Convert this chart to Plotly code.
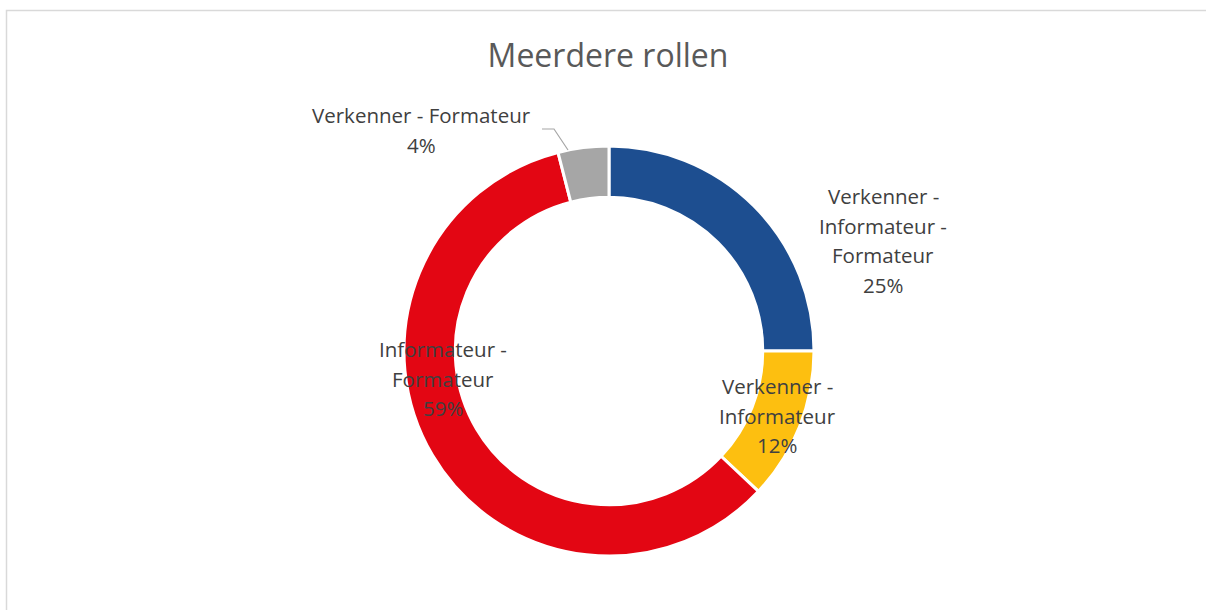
import plotly.graph_objects as go

# ---- data ----
categories = ["Verkenner - Informateur - Formateur", "Verkenner - Informateur",
              "Informateur - Formateur", "Verkenner - Formateur"]
values = [25, 12, 59, 4]
colors = ["#1D4E90", "#FDBF10", "#E30613", "#A6A6A6"]

# wrapped label lines (as in the original chart)
label_lines = [
    ["Verkenner -", "Informateur -", "Formateur"],
    ["Verkenner -", "Informateur"],
    ["Informateur -", "Formateur"],
    ["Verkenner - Formateur"],
]

W, H = 1206, 610


def px(x):
    return x / W


def py(y):
    return 1 - y / H


cx, cy, R = 609, 351, 205

fig = go.Figure(go.Pie(
    labels=categories, values=values, sort=False, direction="clockwise",
    rotation=0, hole=0.75, textinfo="none", hoverinfo="label+percent",
    marker=dict(colors=colors, line=dict(color="white", width=3)),
    domain=dict(x=[px(cx - R), px(cx + R)], y=[py(cy + R), py(cy - R)]),
    showlegend=False,
))

FONT = "Open Sans, Segoe UI, sans-serif"
label_pos = [(883, 196), (777, 386), (443, 349), (421, 115)]
line_gap = 29.6
annotations = []
for lines, v, (lx, ly) in zip(label_lines, values, label_pos):
    all_lines = lines + [f"{v}%"]
    for i, t in enumerate(all_lines):
        annotations.append(dict(
            x=px(lx), y=py(ly + i * line_gap), xref="paper", yref="paper",
            text=t, showarrow=False, xanchor="center", yanchor="middle",
            font=dict(family=FONT, size=20.5, color="#404040"),
        ))

shapes = [
    # chart frame: only left and top edges are visible in the window
    dict(type="path", xref="paper", yref="paper",
         path=f"M {px(6.5)} {py(640)} L {px(6.5)} {py(10.5)} L {px(1240)} {py(10.5)}",
         line=dict(color="#D9D9D9", width=1.5)),
    dict(type="path", xref="paper", yref="paper",
         path=f"M {px(542)} {py(129)} L {px(554)} {py(129)} L {px(568)} {py(150)}",
         line=dict(color="#A6A6A6", width=1.2)),
]

fig.update_layout(
    width=W, height=H, margin=dict(l=0, r=0, t=0, b=0),
    paper_bgcolor="white", plot_bgcolor="white",
    title=dict(text="Meerdere rollen", x=px(608), xanchor="center",
               y=py(56), yanchor="middle",
               font=dict(family=FONT, size=32, color="#595959")),
    annotations=annotations, shapes=shapes,
)

fig.write_html(
    "out.html",
    config={"displayModeBar": False},
    post_script="document.body.style.margin='0px';document.body.style.overflow='hidden';",
)
